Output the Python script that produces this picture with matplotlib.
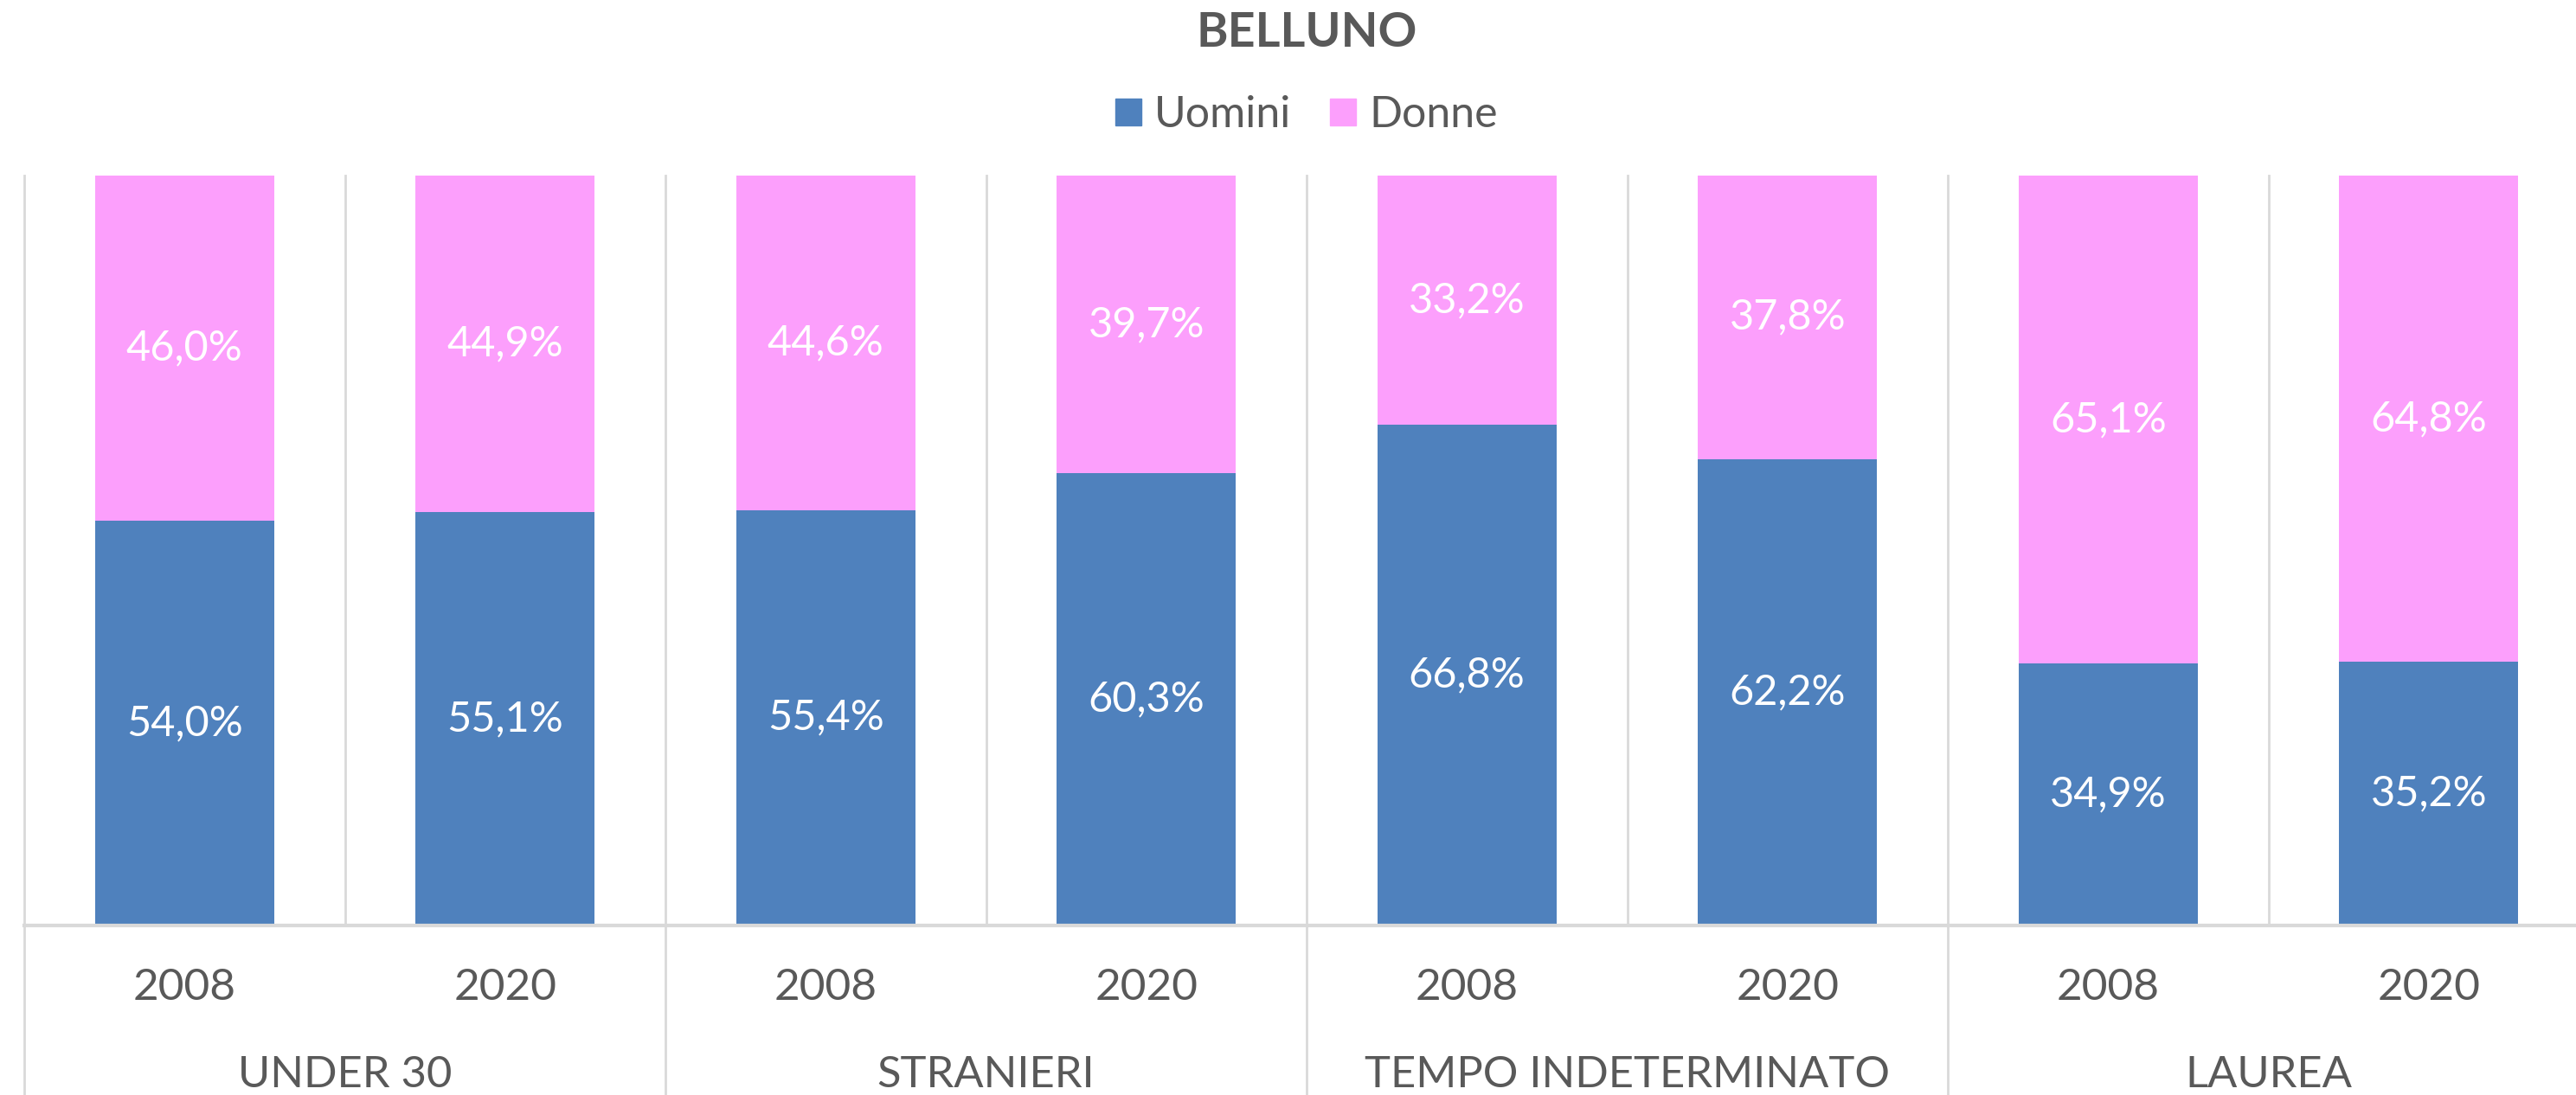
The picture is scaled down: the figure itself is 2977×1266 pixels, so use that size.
import matplotlib
matplotlib.use("Agg")
import matplotlib.pyplot as plt
from matplotlib.patches import Patch

plt.rcParams['font.family'] = ['Lato', 'DejaVu Sans']

groups = ["UNDER 30", "STRANIERI", "TEMPO INDETERMINATO", "LAUREA"]
years = ["2008", "2020"]
uomini = [54.0, 55.1, 55.4, 60.3, 66.8, 62.2, 34.9, 35.2]
donne = [46.0, 44.9, 44.6, 39.7, 33.2, 37.8, 65.1, 64.8]

blue = "#4F81BD"
pink = "#FC9FFC"
grid = "#D9D9D9"
txt = "#595959"

W, H = 2977, 1266
fig = plt.figure(figsize=(W / 100, H / 100), dpi=100)
left = 28 / W
width = 8 * 370.5 / W
bottom = (H - 1070) / H
height = (1070 - 203) / H
ax = fig.add_axes([left, bottom, width, height])

x = list(range(len(uomini)))
ax.bar(x, uomini, width=0.56, color=blue, zorder=2)
ax.bar(x, donne, width=0.56, bottom=uomini, color=pink, zorder=2)

for i in x:
    ax.text(i, uomini[i] / 2, f"{uomini[i]:.1f}%".replace(".", ","), ha="center", va="center",
            color="white", fontsize=35)
    ax.text(i, uomini[i] + donne[i] / 2, f"{donne[i]:.1f}%".replace(".", ","), ha="center",
            va="center", color="white", fontsize=35)

ax.set_xlim(-0.5, 7.5)
ax.set_ylim(0, 100)
ax.axis("off")

# gridlines between bars, group separators run down to the bottom
for k in range(9):
    xv = k - 0.5
    ylow = -25 if k % 2 == 0 else 0
    ax.plot([xv, xv], [100, ylow], color=grid, lw=2, clip_on=False, zorder=1)
ax.plot([-0.5, 7.5], [0, 0], color=grid, lw=3, clip_on=False, zorder=3)

# category labels
px = 100 / (1070 - 203)
for i in x:
    ax.text(i, -(1142 - 1070) * px, years[i % 2], ha="center", va="center", color=txt,
            fontsize=37, clip_on=False)
for g, name in enumerate(groups):
    ax.text(2 * g + 0.5, -(1243 - 1070) * px, name, ha="center", va="center", color=txt,
            fontsize=36.5, clip_on=False)

cx = (28 + 4 * 370.5) / W
fig.text(cx, 1 - 38 / H, "BELLUNO", ha="center", va="center", color=txt, fontsize=40,
         fontweight="bold")

handles = [Patch(color=blue, label="Uomini"), Patch(color=pink, label="Donne")]
fig.legend(handles=handles, loc="center", bbox_to_anchor=(cx, 1 - 133 / H), ncol=2,
           frameon=False, fontsize=36, labelcolor=txt, handlelength=0.6, handleheight=0.6,
           handletextpad=0.3, columnspacing=0.9)

fig.savefig("out.png", dpi=100)
